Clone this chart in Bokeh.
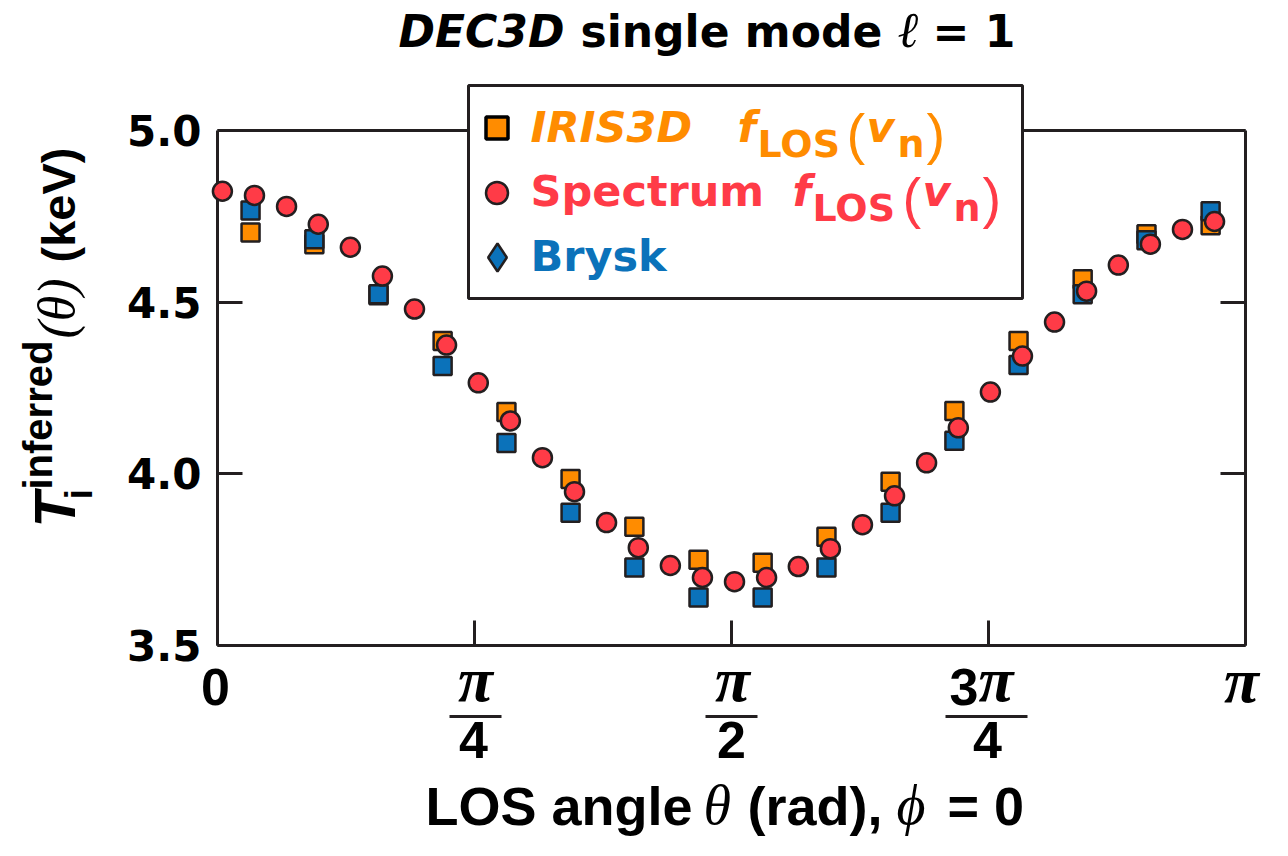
import numpy as np
from bokeh.plotting import figure
from bokeh.models import (ColumnDataSource, FixedTicker, LinearAxis, Label,
                          BoxAnnotation, Legend, LegendItem, Range1d)
from bokeh.embed import file_html
from bokeh.resources import INLINE

# ---------------- data ----------------
theta_spectrum = [0.015, 0.113, 0.211, 0.308, 0.406, 0.504, 0.602, 0.700,
                  0.797, 0.895, 0.993, 1.091, 1.189, 1.286, 1.384, 1.482,
                  1.580, 1.678, 1.775, 1.873, 1.971, 2.069, 2.167, 2.264,
                  2.362, 2.460, 2.558, 2.656, 2.753, 2.851, 2.949, 3.047]
T_spectrum = [4.823, 4.811, 4.779, 4.727, 4.660, 4.576, 4.480, 4.375,
              4.265, 4.154, 4.047, 3.948, 3.858, 3.785, 3.733, 3.698,
              3.686, 3.698, 3.730, 3.782, 3.852, 3.936, 4.032, 4.134,
              4.238, 4.343, 4.442, 4.532, 4.608, 4.669, 4.712, 4.735]

theta_squares = [0.101, 0.296, 0.492, 0.688, 0.883, 1.079, 1.274, 1.470,
                 1.666, 1.861, 2.057, 2.252, 2.448, 2.644, 2.839, 3.035]
T_iris3d = [4.703, 4.669, 4.520, 4.387, 4.180, 3.985, 3.846, 3.750,
            3.741, 3.817, 3.977, 4.183, 4.387, 4.567, 4.698, 4.724]
T_brysk = [4.767, 4.683, 4.523, 4.314, 4.090, 3.887, 3.727, 3.640,
           3.640, 3.727, 3.887, 4.096, 4.317, 4.523, 4.680, 4.765]

x_ticks = [0.0, np.pi / 4, np.pi / 2, 3 * np.pi / 4, np.pi]
y_ticks = [3.5, 4.0, 4.5, 5.0]
y_tick_labels = ["3.5", "4.0", "4.5", "5.0"]

# ---------------- styles ----------------
DARK = "#231F20"
ORANGE = "#FF8C00"
RED = "#FF3B47"
BLUE = "#0B72BA"
WIDE = "DejaVu Sans"
SANS = "Liberation Sans"
SERIF = "Liberation Serif"

W, H = 1272, 840
# pixel box of the plotting area (axes frame) inside the canvas
BL, BR, BT, BB = 217.0, 1245.0, 130.0, 645.0
X0, X1 = 0.0, np.pi
Y0, Y1 = 3.5, 5.0
dx = (X1 - X0) / (BR - BL)
dy = (Y1 - Y0) / (BB - BT)

p = figure(width=W, height=H, output_backend="svg", toolbar_location=None, title=None,
           x_range=Range1d(X0 - BL * dx, X1 + (W - BR) * dx),
           y_range=Range1d(Y0 - (H - BB) * dy, Y1 + BT * dy),
           min_border_left=0, min_border_right=0, min_border_top=0, min_border_bottom=0,
           background_fill_color="white", border_fill_color="white")
p.outline_line_color = None
p.grid.visible = False


def style_axis(ax):
    ax.axis_line_color = DARK
    ax.axis_line_width = 3
    ax.major_tick_line_color = DARK
    ax.major_tick_line_width = 3
    ax.major_tick_in = 25
    ax.major_tick_out = 0
    ax.minor_tick_line_color = None


xa = p.xaxis[0]
xa.ticker = FixedTicker(ticks=x_ticks)
xa.major_label_overrides = {t: "" for t in x_ticks}
xa.fixed_location = Y0
xa.bounds = (X0, X1)
style_axis(xa)

ya = p.yaxis[0]
ya.ticker = FixedTicker(ticks=y_ticks)
ya.major_label_overrides = dict(zip(y_ticks, y_tick_labels))
ya.major_label_text_font = WIDE
ya.major_label_text_font_style = "bold"
ya.major_label_text_font_size = "42px"
ya.major_label_text_color = "black"
ya.major_label_standoff = 16
ya.fixed_location = X0
ya.bounds = (Y0, Y1)
style_axis(ya)

ra = LinearAxis(ticker=FixedTicker(ticks=y_ticks),
                major_label_overrides={t: "" for t in y_ticks},
                fixed_location=X1, bounds=(Y0, Y1))
style_axis(ra)
p.add_layout(ra, "right")

ta = LinearAxis(ticker=FixedTicker(ticks=[]), fixed_location=Y1, bounds=(X0, X1))
style_axis(ta)
ta.major_tick_in = 0
p.add_layout(ta, "above")

# ---------------- data glyphs ----------------
src_sq = ColumnDataSource(dict(theta=theta_squares, iris=T_iris3d, brysk=T_brysk))
src_sp = ColumnDataSource(dict(theta=theta_spectrum, T=T_spectrum))

p.scatter("theta", "iris", source=src_sq, marker="square", size=18,
          fill_color=ORANGE, line_color=DARK, line_width=2.5, level="overlay")
p.scatter("theta", "brysk", source=src_sq, marker="square", size=18,
          fill_color=BLUE, line_color=DARK, line_width=2.5, level="overlay")
p.scatter("theta", "T", source=src_sp, marker="circle", size=19,
          fill_color=RED, line_color=DARK, line_width=2.5, level="overlay")

# ---------------- helpers (screen units: x right, y up from canvas bottom) ----------------
MID = 0.40  # distance (in em) from the alphabetic baseline to the text's middle


def txt(text, px, py, size, font=WIDE, style="bold", color="black",
        align="left", rotated=False, xdata=None, xoff=0, level="annotation"):
    """px, py: start (or centre) of the text and its baseline, in picture pixels."""
    if rotated:
        ax_, ay_ = px - MID * size, py
    else:
        ax_, ay_ = px, py - MID * size
    if xdata is None:
        lab = Label(x=ax_, y=H - ay_, x_units="screen", y_units="screen")
    else:
        lab = Label(x=xdata, y=H - ay_, x_units="data", y_units="screen", x_offset=xoff)
    lab.text = text
    lab.text_font = font
    lab.text_font_size = f"{size}px"
    lab.text_font_style = style
    lab.text_color = color
    lab.text_align = align
    lab.text_baseline = "middle"
    lab.angle = np.pi / 2 if rotated else 0.0
    lab.level = level
    p.add_layout(lab)


def box(l, r, t, b, color, level="annotation", line_color=None, line_width=0):
    p.add_layout(BoxAnnotation(left=l, right=r, top=H - t, bottom=H - b,
                               left_units="screen", right_units="screen",
                               top_units="screen", bottom_units="screen",
                               fill_color=color, fill_alpha=1.0,
                               line_color=line_color, line_alpha=1.0,
                               line_width=line_width, level=level))


# ---------------- legend ----------------
box(468, 1022, 85, 298, "white", line_color=DARK, line_width=3)

leg_src = ColumnDataSource(dict(x=[np.nan], y=[np.nan]))
l_iris = p.scatter("x", "y", source=leg_src, marker="square", size=20,
                   fill_color=ORANGE, line_color="black", line_width=3.5)
l_spec = p.scatter("x", "y", source=leg_src, marker="circle", size=20,
                   fill_color=RED, line_color=DARK, line_width=2.5)
l_brysk = p.scatter("x", "y", source=leg_src, marker="diamond", size=29,
                    fill_color=BLUE, line_color=DARK, line_width=2.5)

LEG = dict(border_line_color=None, background_fill_color=None,
           background_fill_alpha=0, padding=0, margin=0, label_width=0,
           label_standoff=0, label_text_font_size="1px", level="overlay")
legend_a = Legend(items=[LegendItem(label=" ", renderers=[l_iris]),
                         LegendItem(label=" ", renderers=[l_spec])],
                  location=(468.5, H - 219.5), spacing=10,
                  glyph_width=55, glyph_height=55, label_height=55, **LEG)
legend_b = Legend(items=[LegendItem(label=" ", renderers=[l_brysk])],
                  location=(462, H - 292), spacing=0,
                  glyph_width=70, glyph_height=70, label_height=70, **LEG)
p.add_layout(legend_a, "center")
p.add_layout(legend_b, "center")

OV = "overlay"
txt("IRIS3D", 530, 144, 43, style="bold italic", color=ORANGE, level=OV)
txt("f", 737, 144, 43, style="bold italic", color=ORANGE, level=OV)
txt("LOS", 757, 159, 38, color=ORANGE, level=OV)
txt("(", 846, 155, 56, font=SANS, style="normal", color=ORANGE, level=OV)
txt("v", 866, 144, 43, style="bold italic", color=ORANGE, level=OV)
txt("n", 897, 159, 38, color=ORANGE, level=OV)
txt(")", 926, 155, 56, font=SANS, style="normal", color=ORANGE, level=OV)

txt("Spectrum", 530, 208, 43, color=RED, level=OV)
txt("f", 792, 208, 43, style="bold italic", color=RED, level=OV)
txt("LOS", 812, 223, 38, color=RED, level=OV)
txt("(", 902, 219, 56, font=SANS, style="normal", color=RED, level=OV)
txt("v", 922, 208, 43, style="bold italic", color=RED, level=OV)
txt("n", 953, 223, 38, color=RED, level=OV)
txt(")", 982, 219, 56, font=SANS, style="normal", color=RED, level=OV)

txt("Brysk", 530, 273, 43, color=BLUE, level=OV)

# ---------------- title ----------------
txt("DEC3D", 398, 49, 44, style="bold italic")
txt("single mode", 580, 49, 44)
txt("\u2113", 897, 49, 50, font=SERIF, style="italic")
txt("= 1", 932, 49, 44)

# ---------------- x tick labels ----------------
txt("0", 0, 707, 52, font=SANS, align="center", xdata=x_ticks[0], xoff=-2)
txt("\u03c0", 0, 705, 64, font=SERIF, style="bold italic", align="center", xdata=x_ticks[1], xoff=1)
txt("4", 0, 760, 52, font=SANS, align="center", xdata=x_ticks[1], xoff=-1)
txt("\u03c0", 0, 705, 64, font=SERIF, style="bold italic", align="center", xdata=x_ticks[2], xoff=1)
txt("2", 0, 760, 52, font=SANS, align="center", xdata=x_ticks[2])
txt("3", 0, 707, 52, font=SANS, align="right", xdata=x_ticks[3], xoff=-10)
txt("\u03c0", 0, 705, 64, font=SERIF, style="bold italic", align="left", xdata=x_ticks[3], xoff=-10)
txt("4", 0, 760, 52, font=SANS, align="center", xdata=x_ticks[3], xoff=-1)
txt("\u03c0", 0, 706, 64, font=SERIF, style="bold italic", align="center", xdata=x_ticks[4], xoff=-4)

for l, r in [(449, 501), (705, 757), (945, 1027)]:
    box(l, r, 714.5, 717.5, DARK)

# ---------------- x axis title ----------------
XB = 827
txt("LOS angle", 425, XB, 54, font=SANS)
txt("\u03b8", 703, XB, 56, font=SERIF, style="italic")
txt("(rad),", 747, XB, 54, font=SANS)
txt("\u03d5", 896, XB, 56, font=SERIF, style="italic")
txt("= 0", 947, XB, 54, font=SANS)

# ---------------- y axis title (rotated, reading upwards) ----------------
txt("T", 77, 527, 58, font=SANS, style="bold italic", rotated=True)
txt("i", 94, 499, 38, font=SANS, rotated=True)
txt("inferred", 53, 489, 40, font=SANS, rotated=True)
txt("(\u03b8)", 77, 338, 52, font=SERIF, style="italic", rotated=True)
txt("(keV)", 77, 262, 47, font=SANS, rotated=True)

open("out.html", "w").write(file_html(p, INLINE, title="DEC3D single mode"))
